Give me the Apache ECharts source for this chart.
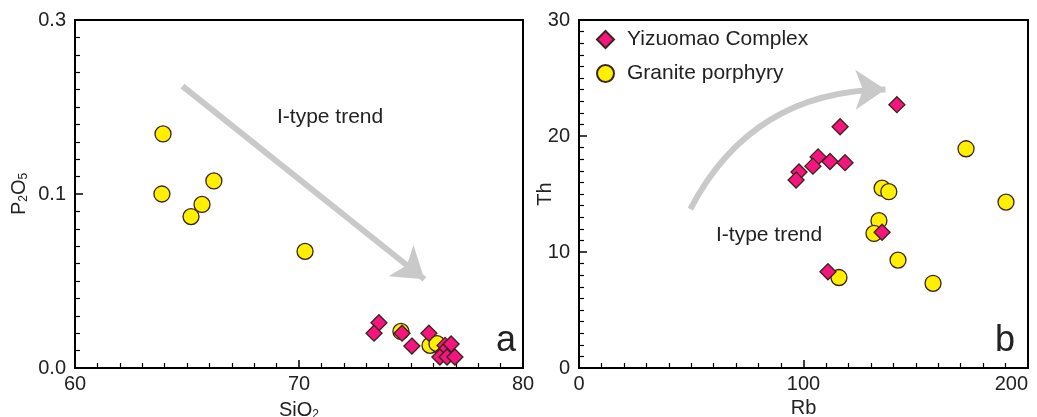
<!DOCTYPE html>
<html>
<head>
<meta charset="utf-8">
<script src="https://cdn.jsdelivr.net/npm/echarts@6/dist/echarts.min.js"></script>
<style>html,body{margin:0;padding:0;background:#fff}#c{width:1037px;height:417px}</style>
</head>
<body>
<div id="c"></div>
<script>
// ---- Data (panel a: SiO2 vs P2O5) ----
const graniteA = [[63.93,0.169],[63.88,0.100],[65.18,0.087],[65.67,0.094],[66.2,0.115],[70.27,0.067],[74.55,0.021],[75.85,0.013],[76.16,0.014]];
const yizuomaoA = [[73.57,0.026],[73.35,0.020],[74.6,0.020],[75.04,0.0126],[75.8,0.020],[76.52,0.013],[76.79,0.0138],[76.43,0.009],[76.29,0.0063],[76.61,0.0063],[76.96,0.0063]];
// ---- Data (panel b: Rb vs Th) ----
const graniteB = [[135,15.5],[138,15.2],[133.6,12.7],[131.4,11.6],[142.1,9.3],[115.8,7.8],[172.4,18.9],[190.2,14.3],[157.7,7.3]];
const yizuomaoB = [[141.6,22.7],[116.3,20.8],[106.5,18.2],[104.2,17.4],[111.8,17.8],[118.5,17.7],[98,16.9],[96.7,16.2],[135,11.7],[110.9,8.3]];
// trend arrows (data units)
const arrowA = [[64.8,0.224],[75.6,0.051]];
const arrowB = [[49.6,13.7],[136.5,24.0]];
const yTicksA = ['0.0','0.1','0.3'];

// panel a y-axis is drawn 0-0.1 in lower half and 0.1-0.3 in upper half
function ya(v){ return v <= 0.1 ? v : 0.1 + (v - 0.1) / 2; }
const mapA = d => [d[0], ya(d[1])];

const txt = '#222';
const font = 'Liberation Sans, Arial, sans-serif';
const fs = 20;
const pink = '#f5157f', yellow = '#fff000', edge = '#3a2418';

function axisCommon(extra){
  return Object.assign({
    axisLine:{show:true,onZero:false,lineStyle:{color:'#000',width:2}},
    axisTick:{show:true,inside:true,length:8,lineStyle:{color:'#000',width:1.5}},
    minorTick:{show:true,splitNumber:10,length:5,lineStyle:{color:'#000',width:1.2}},
    splitLine:{show:false},
    axisLabel:{color:txt,fontSize:fs,fontFamily:font,margin:6},
    nameTextStyle:{color:txt,fontSize:fs,fontFamily:font},
    nameLocation:'middle',
    nameMoveOverlap:false
  }, extra);
}
const richName = {a:{fontSize:fs,color:txt,fontFamily:font},s:{fontSize:12,color:txt,fontFamily:font,padding:[9,0,0,0]}};

const chart = echarts.init(document.getElementById('c'));
chart.setOption({
  animation:false,
  grid:[
    {left:75,right:514,top:20,bottom:49,show:true,borderColor:'#000',borderWidth:2,outerBoundsMode:'none',containLabel:false},
    {left:579,right:9,top:20,bottom:49,show:true,borderColor:'#000',borderWidth:2,outerBoundsMode:'none',containLabel:false}
  ],
  xAxis:[
    axisCommon({gridIndex:0,type:'value',min:60,max:80,interval:10,name:'{a|SiO}{s|2}',nameGap:32,
      nameTextStyle:{color:txt,fontSize:fs,fontFamily:font,rich:richName}}),
    axisCommon({gridIndex:1,type:'value',min:0,max:200,interval:100,name:'Rb',nameGap:30,
      axisLabel:{color:txt,fontSize:fs,fontFamily:font,margin:6,alignMaxLabel:'right'}})
  ],
  yAxis:[
    axisCommon({gridIndex:0,type:'value',min:0,max:0.2,interval:0.1,name:'{a|P}{s|2}{a|O}{s|5}',nameGap:45,nameRotate:90,
      axisLabel:{color:txt,fontSize:fs,fontFamily:font,margin:9,formatter:(v)=>yTicksA[Math.round(v*10)]},
      nameTextStyle:{color:txt,fontSize:fs,fontFamily:font,rich:richName}}),
    axisCommon({gridIndex:1,type:'value',min:0,max:30,interval:10,name:'Th',nameGap:24,nameRotate:90,
      axisLabel:{color:txt,fontSize:fs,fontFamily:font,margin:9}})
  ],
  legend:{
    orient:'vertical',left:596,top:29,padding:0,itemWidth:17,itemHeight:17,itemGap:13,
    textStyle:{color:txt,fontSize:21,fontFamily:font,padding:[0,0,0,8]},
    data:['Yizuomao Complex','Granite porphyry']
  },
  graphic:[
    {type:'text',left:277,top:107,style:{text:'I-type trend',fill:txt,font:'21px '+font}},
    {type:'text',left:716,top:225,style:{text:'I-type trend',fill:txt,font:'21px '+font}},
    {type:'text',left:496,top:323,style:{text:'a',fill:txt,font:'36px '+font}},
    {type:'text',left:995,top:323,style:{text:'b',fill:txt,font:'36px '+font}}
  ],
  series:[
    {type:'lines',coordinateSystem:'cartesian2d',xAxisIndex:0,yAxisIndex:0,
      symbol:['none','arrow'],symbolSize:[0,30],lineStyle:{color:'#c9c9c9',width:6,opacity:1,curveness:0},
      data:[{coords:arrowA.map(mapA)}],silent:true,z:1},
    {type:'lines',coordinateSystem:'cartesian2d',xAxisIndex:1,yAxisIndex:1,
      symbol:['none','arrow'],symbolSize:[0,30],lineStyle:{color:'#c9c9c9',width:6,opacity:1,curveness:0.3},
      data:[{coords:arrowB}],silent:true,z:1},
    {name:'Granite porphyry',type:'scatter',xAxisIndex:0,yAxisIndex:0,symbol:'circle',symbolSize:16,
      itemStyle:{color:yellow,borderColor:edge,borderWidth:1.3,opacity:1},data:graniteA.map(mapA),z:3},
    {name:'Yizuomao Complex',type:'scatter',xAxisIndex:0,yAxisIndex:0,symbol:'diamond',symbolSize:[16,16],
      itemStyle:{color:pink,borderColor:edge,borderWidth:1.3,opacity:1},data:yizuomaoA.map(mapA),z:4},
    {name:'Granite porphyry',type:'scatter',xAxisIndex:1,yAxisIndex:1,symbol:'circle',symbolSize:16,
      itemStyle:{color:yellow,borderColor:edge,borderWidth:1.3,opacity:1},data:graniteB,z:3},
    {name:'Yizuomao Complex',type:'scatter',xAxisIndex:1,yAxisIndex:1,symbol:'diamond',symbolSize:[16,16],
      itemStyle:{color:pink,borderColor:edge,borderWidth:1.3,opacity:1},data:yizuomaoB,z:4}
  ]
});
</script>
</body>
</html>
